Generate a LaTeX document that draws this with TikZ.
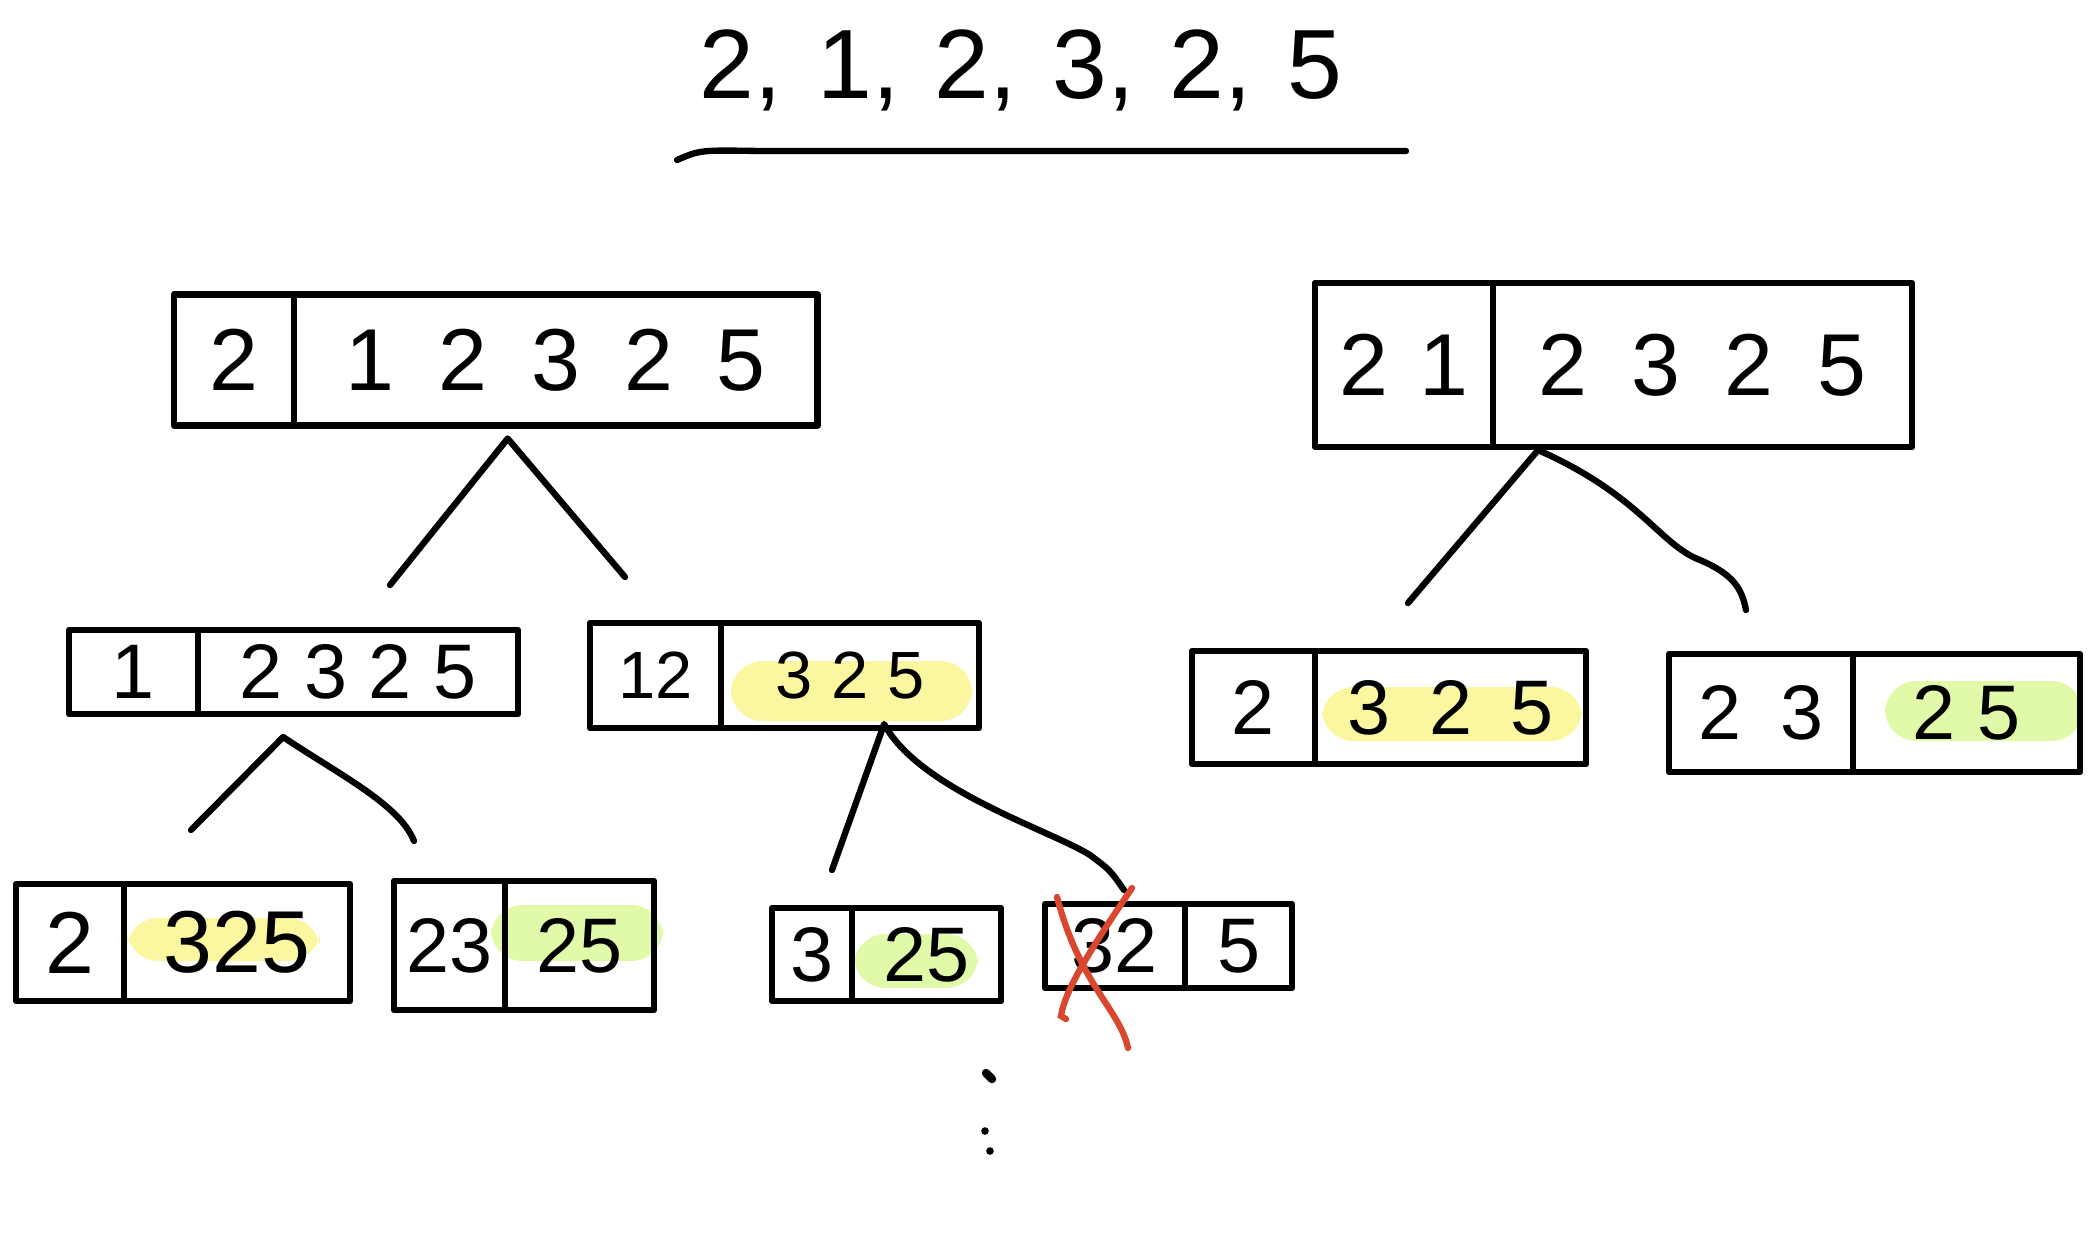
\documentclass[tikz,border=0pt]{standalone}
\usepackage{fontspec}
\setmainfont{Liberation Sans}
\usetikzlibrary{positioning, calc}
\definecolor{hlyellow}{HTML}{FAF7A0}
\definecolor{hlgreen}{HTML}{E0FAAA}
\definecolor{crossred}{HTML}{D9482E}
\tikzset{
  cell/.style  ={draw, line width=1.8pt, outer sep=0pt, inner sep=0pt,
                 line join=round, align=center},
  big/.style   ={font=\fontsize{25}{30}\selectfont},
  mid/.style   ={font=\fontsize{22}{26}\selectfont},
  sml/.style   ={font=\fontsize{19}{23}\selectfont},
  wide/.style  ={execute at begin node={\spaceskip=.5em\relax}},
  hly/.style   ={fill=hlyellow, rounded corners=9pt},
  hlg/.style   ={fill=hlgreen, rounded corners=9pt},
  branch/.style={line width=1.8pt, line cap=round, line join=round},
  cross/.style ={draw=crossred, line width=1.8pt, line cap=round}
}

\begin{document}
\begin{tikzpicture}[x=0.01cm, y=-0.01cm]
  \useasboundingbox (0,0) rectangle (2093,1244);

  % title
  \node[font=\fontsize{28}{32}\selectfont, execute at begin node={\spaceskip=.36em\relax}]
    (title) at (1021,70) {2, 1, 2, 3, 2, 5};
  \draw[branch] (677,160) .. controls (700,150) .. (760,151) -- (1406,151);

  % highlights
  \fill[hly] (731,661) rectangle (972,721);
  \fill[hly] (1322,687) rectangle (1582,741);
  \fill[hlg] (1885,681) rectangle (2083,741);
  \fill[hly] (127,918) rectangle (320,961);
  \fill[hlg] (491,905) rectangle (663,961);
  \fill[hlg] (854,934) rectangle (978,988);

  % left tree
  \node[cell, big, minimum width=1.20cm, minimum height=1.31cm] (Lh) at (234,360) {2};
  \node[cell, big, wide, minimum width=5.23cm, minimum height=1.31cm, right=0pt of Lh] (Lt) {1 2 3 2 5};

  \node[cell, mid, minimum width=1.29cm, minimum height=0.84cm] (L1h) at (133.5,672) {1};
  \node[cell, mid, minimum width=3.20cm, minimum height=0.84cm, right=0pt of L1h] (L1t) {2 3 2 5};
  \node[cell, sml, minimum width=1.31cm, minimum height=1.05cm] (L2h) at (655.5,675.5) {12};
  \node[cell, sml, minimum width=2.58cm, minimum height=1.05cm, right=0pt of L2h] (L2t) {3 2 5};

  \node[cell, big, minimum width=1.08cm, minimum height=1.17cm] (L11h) at (70,942.5) {2};
  \node[cell, big, minimum width=2.26cm, minimum height=1.17cm, right=0pt of L11h] (L11t) {325};
  \node[cell, mid, minimum width=1.11cm, minimum height=1.29cm] (L12h) at (449.5,945.5) {23};
  \node[cell, mid, minimum width=1.49cm, minimum height=1.29cm, right=0pt of L12h] (L12t) {25};
  \node[cell, mid, minimum width=0.80cm, minimum height=0.93cm] (L21h) at (812,954.5) {3};
  \node[cell, mid, minimum width=1.49cm, minimum height=0.93cm, right=0pt of L21h] (L21t) {25};
  \node[cell, mid, minimum width=1.40cm, minimum height=0.84cm] (L22h) at (1115,946) {32};
  \node[cell, mid, minimum width=1.07cm, minimum height=0.84cm, right=0pt of L22h] (L22t) {5};

  % right tree
  \node[cell, big, minimum width=1.78cm, minimum height=1.64cm,
        execute at begin node={\spaceskip=.36em\relax}] (Rh) at (1404,365) {2 1};
  \node[cell, big, wide, minimum width=4.19cm, minimum height=1.64cm, right=0pt of Rh] (Rt) {2 3 2 5};

  \node[cell, mid, minimum width=1.23cm, minimum height=1.13cm] (R1h) at (1253.5,707.5) {2};
  \node[cell, mid, wide, minimum width=2.71cm, minimum height=1.13cm, right=0pt of R1h] (R1t) {3 2 5};
  \node[cell, mid, wide, minimum width=1.84cm, minimum height=1.18cm] (R2h) at (1761,713) {2 3};
  \node[cell, mid, minimum width=2.27cm, minimum height=1.18cm, right=0pt of R2h] (R2t) {2 5};

  % branches
  \coordinate (Lfork) at ($(Lt.south)+(-48,13)$);
  \coordinate (L1end) at (390,585);
  \coordinate (L2end) at (625,577);
  \draw[branch] (L1end) -- (Lfork) -- (L2end);

  \coordinate (L1fork) at ($(L1t.south)+(-75,23)$);
  \coordinate (L11end) at (191,830);
  \coordinate (L12end) at (414,841);
  \draw[branch] (L11end) -- (L1fork) .. controls (340,775) and (400,805) .. (L12end);

  \coordinate (L2fork) at ($(L2t.south)+(34,-4)$);
  \coordinate (L21end) at (832,870);
  \coordinate (L22end) at (1124,890);
  \draw[branch] (L21end) -- (L2fork) .. controls (920,790) and (1050,830) .. (1090,855)
    .. controls (1110,870) .. (L22end);

  \coordinate (Rfork) at ($(Rh.south east)+(45,3)$);
  \coordinate (R1end) at (1408,603);
  \coordinate (R2end) at (1746,610);
  \draw[branch] (R1end) -- (Rfork) .. controls (1640,495) and (1660,545) .. (1700,560)
    .. controls (1735,575) and (1742,590) .. (R2end);

  % crossed out
  \draw[cross] (1057,897) .. controls (1080,985) and (1120,1010) .. (1128,1048);
  \draw[cross] (1132,888) .. controls (1090,950) and (1065,990) .. (1061,1016) -- (1066,1019);

  % dots
  \draw[branch, line width=2.4pt] (986,1073) -- (992,1079);
  \fill (985,1131) circle (3.8);
  \fill (990,1151) circle (3.8);
\end{tikzpicture}
\end{document}
